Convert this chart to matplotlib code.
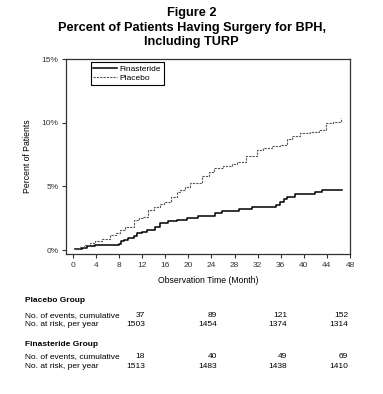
import matplotlib
matplotlib.use("Agg")
import matplotlib.pyplot as plt
from matplotlib.ticker import FuncFormatter

plt.rcParams['font.family'] = ['Liberation Sans', 'DejaVu Sans']

# Kaplan-Meier style cumulative curves (month, percent)
fin_month = [0.3, 1.5, 2.5, 3.9, 7.9, 8.3, 8.8, 9.6, 10.5, 11.1, 12.0, 12.8, 14.2, 15.1,
             16.5, 18.0, 19.7, 21.7, 24.6, 25.8, 28.8, 31.0, 34.4, 35.2, 35.9, 36.5,
             37.0, 38.5, 42.0, 43.1, 46.6]
fin_pct = [0.10, 0.20, 0.30, 0.39, 0.47, 0.70, 0.79, 0.92, 1.10, 1.36, 1.45, 1.57, 1.83, 2.15,
           2.30, 2.40, 2.49, 2.70, 2.88, 3.06, 3.20, 3.35, 3.40, 3.55, 3.80, 4.00,
           4.19, 4.37, 4.58, 4.69, 4.69]

pla_month = [0.3, 1, 2, 3, 3.9, 5, 6.5, 7.5, 8.2, 9, 10.5, 11.5, 12.2, 13, 14, 15, 15.7,
             17, 18, 18.6, 19.5, 20.3, 21.5, 22.4, 23.5, 24.4, 26, 27.5, 28.5, 30, 31.9,
             33, 34.5, 35.9, 37, 38, 39.4, 41, 42.6, 43.8, 45, 46, 46.4]
pla_pct = [0.13, 0.25, 0.4, 0.55, 0.73, 0.9, 1.18, 1.35, 1.57, 1.85, 2.36, 2.5, 2.62, 3.14,
           3.4, 3.65, 3.8, 4.2, 4.58, 4.71, 4.95, 5.24, 5.24, 5.81, 6.1, 6.42, 6.6, 6.8,
           6.94, 7.4, 7.86, 8.0, 8.15, 8.25, 8.7, 8.95, 9.2, 9.3, 9.43, 10.0, 10.02, 10.07, 10.34]

# table below the chart
pla_events = ["37", "89", "121", "152"]
pla_risk = ["1503", "1454", "1374", "1314"]
fin_events = ["18", "40", "49", "69"]
fin_risk = ["1513", "1483", "1438", "1410"]

W, H = 383, 394
fig = plt.figure(figsize=(W / 100, H / 100), dpi=100)
ax = fig.add_axes([66 / W, 1 - 254 / H, 284 / W, 195 / H])

ax.plot(fin_month, fin_pct, drawstyle='steps-post', color='black', lw=1.1, label='Finasteride')
ax.plot(pla_month, pla_pct, drawstyle='steps-post', color='#555555', lw=0.8,
        linestyle=(0, (2, 1)), label='Placebo')

ax.set_xlim(-1.2, 48)
ax.set_ylim(-0.3, 15)
ax.set_xticks(range(0, 49, 4))
ax.set_yticks([0, 5, 10, 15])
ax.yaxis.set_major_formatter(FuncFormatter(lambda v, p: f"{v:.0f}%"))
ax.tick_params(direction='out', length=3, width=0.8, labelsize=6, pad=2.5, colors='#333333')
for s in ax.spines.values():
    s.set_linewidth(0.9)
    s.set_color('#333333')

ax.set_xlabel('Observation Time (Month)', fontsize=6.2, labelpad=5)
ax.set_ylabel('Percent of Patients', fontsize=6.2, labelpad=7)

leg = ax.legend(loc='upper left', bbox_to_anchor=(0.087, 0.983), fontsize=6,
                fancybox=False, edgecolor='black', framealpha=1, handlelength=2.8,
                borderpad=0.3, labelspacing=0.2, handletextpad=0.4, borderaxespad=0)
leg.get_frame().set_linewidth(0.8)

fig.text(0.5, 1 - 13 / H, 'Figure 2', ha='center', va='center', fontsize=9.2, fontweight='bold')
fig.text(0.5, 1 - 28 / H, 'Percent of Patients Having Surgery for BPH,', ha='center',
         va='center', fontsize=9.2, fontweight='bold')
fig.text(0.5, 1 - 42 / H, 'Including TURP', ha='center', va='center', fontsize=9.2,
         fontweight='bold')

col_x = [145, 217, 287, 348]
rows = [
    (301, 'Placebo Group', None),
    (315.5, 'No. of events, cumulative', pla_events),
    (325, 'No. at risk, per year', pla_risk),
    (344, 'Finasteride Group', None),
    (356.5, 'No. of events, cumulative', fin_events),
    (366.5, 'No. at risk, per year', fin_risk),
]
for y, label, vals in rows:
    bold = vals is None
    fig.text(25 / W, 1 - y / H, label, ha='left', va='center', fontsize=6,
             fontweight='bold' if bold else 'normal')
    if vals:
        for x, v in zip(col_x, vals):
            fig.text(x / W, 1 - y / H, v, ha='right', va='center', fontsize=6)

fig.savefig('out.png', dpi=100)
